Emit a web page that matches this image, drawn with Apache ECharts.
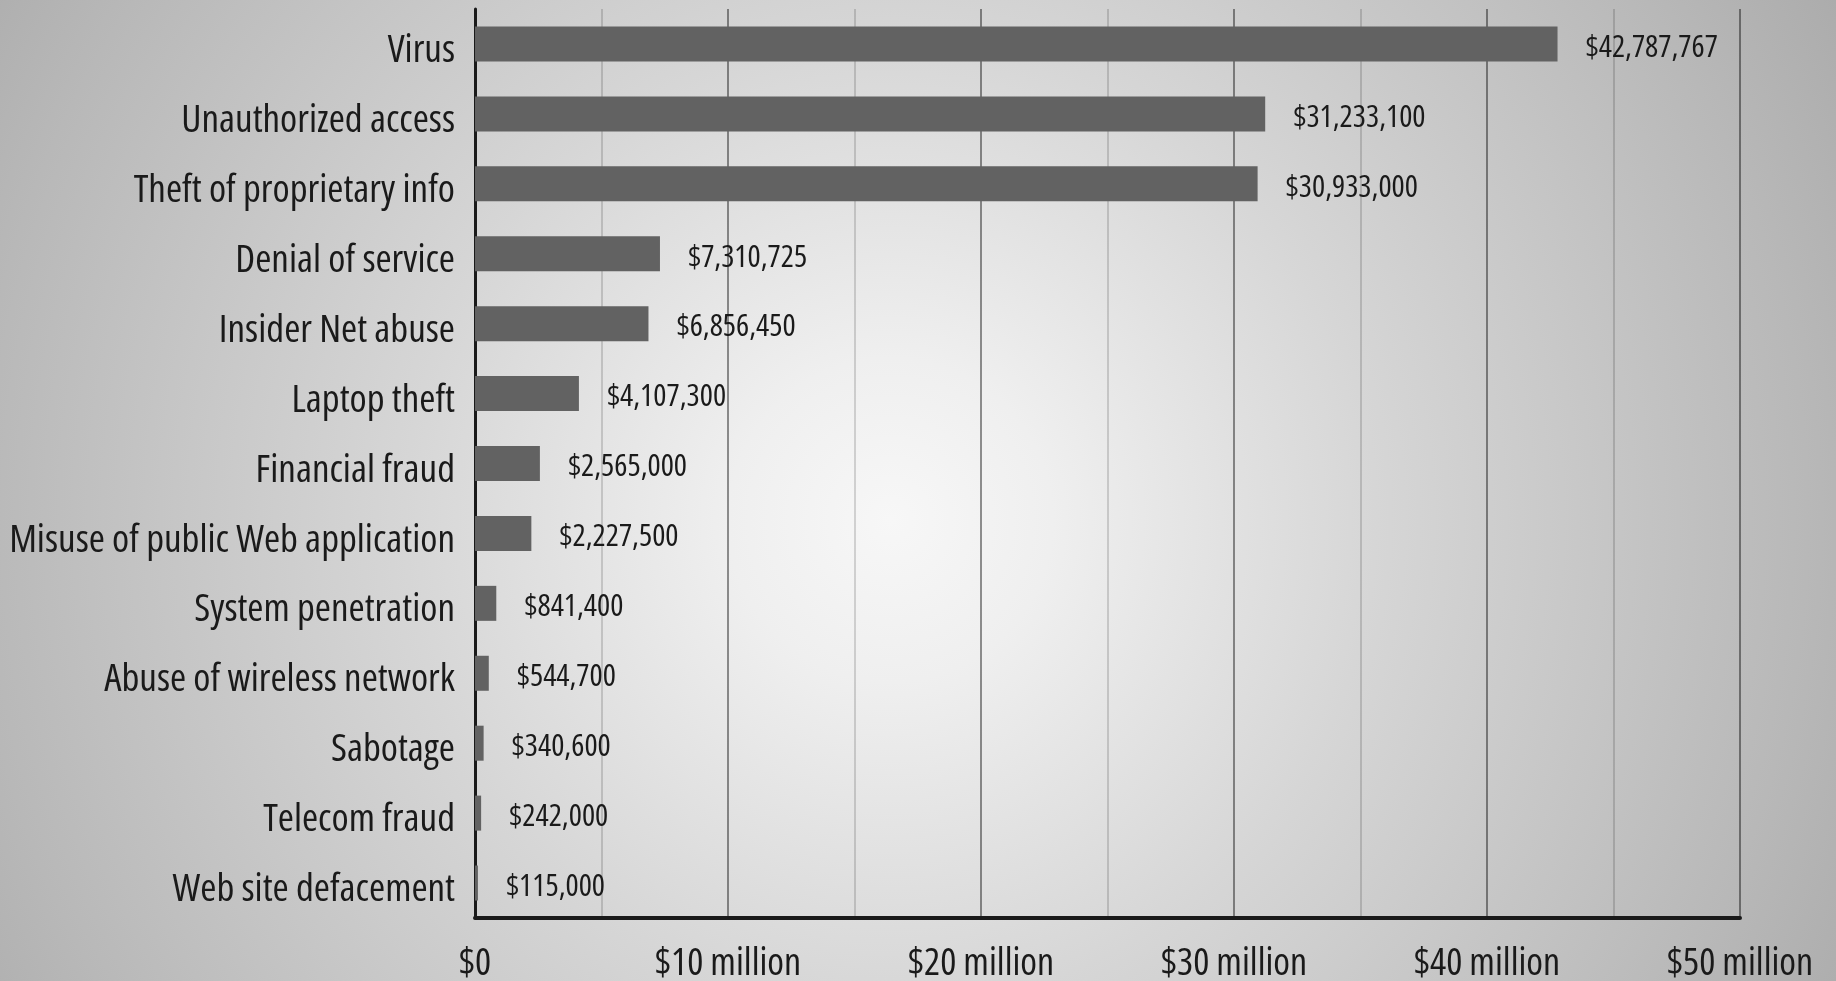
<!DOCTYPE html>
<html>
<head>
<meta charset="utf-8">
<title>Losses by type of attack</title>
<script src="https://cdn.jsdelivr.net/npm/echarts@6/dist/echarts.min.js"></script>
<style>
  html, body { margin: 0; padding: 0; width: 100%; height: 100%; overflow: hidden; }
  #chart { width: 1836px; height: 981px; }
</style>
</head>
<body>
<div id="chart"></div>
<script>
// Dollar losses by type of incident
const categories = [
  'Virus',
  'Unauthorized access',
  'Theft of proprietary info',
  'Denial of service',
  'Insider Net abuse',
  'Laptop theft',
  'Financial fraud',
  'Misuse of public Web application',
  'System penetration',
  'Abuse of wireless network',
  'Sabotage',
  'Telecom fraud',
  'Web site defacement'
];
const losses = [
  42787767, 31233100, 30933000, 7310725, 6856450, 4107300,
  2565000, 2227500, 841400, 544700, 340600, 242000, 115000
];
const axisMax = 50000000;
const axisStep = 10000000;

// Open Sans is a variable font, so a condensed width is available via font-stretch
const FONT = '"Open Sans", Roboto, sans-serif';
const WEIGHT = '500 condensed';
const INK = '#1a1a1a';

const money = v => '$' + Math.round(v).toLocaleString('en-US');
const tickText = v => v === 0 ? '$0' : '$' + (v / 1e6) + ' million';

const chart = echarts.init(document.getElementById('chart'), null, { renderer: 'canvas' });

chart.setOption({
  animation: false,
  backgroundColor: {
    type: 'radial',
    x: 0.485, y: 0.53, r: 1.1,
    colorStops: [
      { offset: 0, color: '#f7f7f7' },
      { offset: 0.15, color: '#efefef' },
      { offset: 0.45, color: '#d6d6d6' },
      { offset: 0.85, color: '#b8b8b8' },
      { offset: 1, color: '#acacac' }
    ]
  },
  grid: {
    left: 475, right: 96, top: 9, bottom: 63,
    containLabel: false,
    outerBoundsMode: 'none'
  },
  xAxis: {
    type: 'value',
    min: 0,
    max: axisMax,
    interval: axisStep,
    axisLine: { show: true, onZero: false, lineStyle: { color: INK, width: 4 } },
    axisTick: { show: false },
    minorTick: { show: false, splitNumber: 2 },
    splitLine: { show: true, lineStyle: { color: 'rgba(0,0,0,0.42)', width: 2 } },
    minorSplitLine: { show: true, lineStyle: { color: 'rgba(0,0,0,0.2)', width: 1.5 } },
    axisLabel: {
      formatter: tickText,
      color: INK,
      fontFamily: FONT,
      fontStyle: 'normal',
      fontWeight: WEIGHT,
      fontSize: 38,
      margin: 27,
      hideOverlap: false
    }
  },
  yAxis: {
    type: 'category',
    data: categories,
    inverse: true,
    axisLine: { show: true, lineStyle: { color: INK, width: 3 } },
    axisTick: { show: false },
    splitLine: { show: false },
    axisLabel: {
      interval: 0,
      color: INK,
      fontFamily: FONT,
      fontStyle: 'normal',
      fontWeight: WEIGHT,
      fontSize: 39,
      margin: 20,
      verticalAlign: 'top',
      lineHeight: 14
    }
  },
  series: [{
    type: 'bar',
    data: losses,
    barWidth: 35,
    itemStyle: { color: '#626262' },
    label: {
      show: true,
      position: 'right',
      distance: 28,
      offset: [0, 4],
      formatter: p => money(p.value),
      color: INK,
      fontFamily: FONT,
      fontStyle: 'normal',
      fontWeight: WEIGHT,
      fontSize: 31
    }
  }]
});
</script>
</body>
</html>
